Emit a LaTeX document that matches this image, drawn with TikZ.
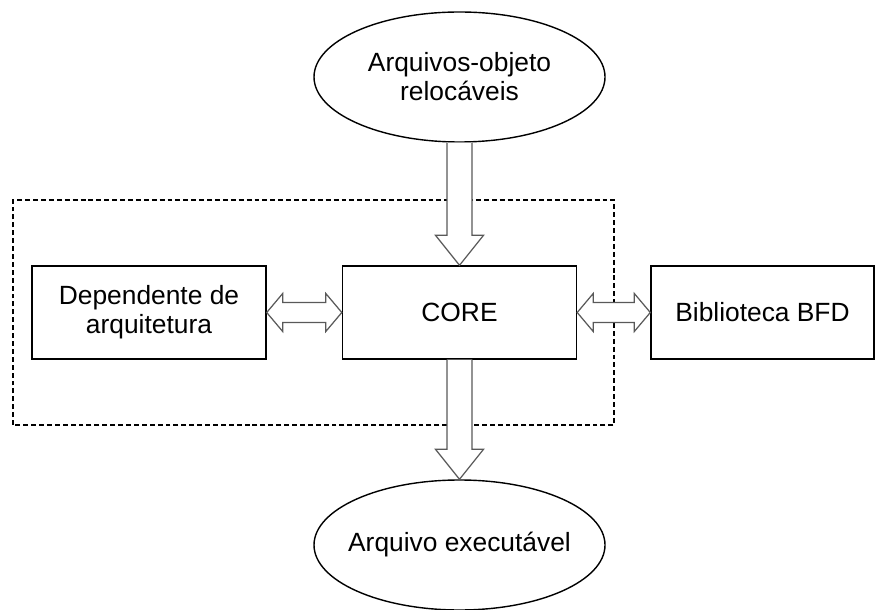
\documentclass[tikz,border=0pt]{standalone}
\usepackage{fontspec}
\setmainfont{Liberation Sans}
\usepackage{tikz}
\usetikzlibrary{shapes.geometric}
\usetikzlibrary{calc}

\tikzset{
  bloco/.style={draw,line width=0.8pt,minimum width=4.68cm,minimum height=1.86cm,
    align=center,inner sep=0pt},
  arquivo/.style={draw,ellipse,line width=0.8pt,minimum width=5.82cm,
    minimum height=2.6cm,align=center,inner sep=-0.25cm},
  seta/.style={draw=black!65,fill=white,line width=0.7pt,line join=miter},
  moldura/.style={draw,dash pattern=on 2.8pt off 1.7pt,line width=0.6pt}
}

\newcommand{\setabaixo}[2]{%
  \draw[seta] ($(#1)+(-0.25,0)$) -- ($(#2)+(-0.25,0.6)$) -- ($(#2)+(-0.48,0.6)$)
    -- (#2) -- ($(#2)+(0.48,0.6)$) -- ($(#2)+(0.25,0.6)$) -- ($(#1)+(0.25,0)$);}
\newcommand{\setadupla}[2]{%
  \draw[seta] (#1) -- ($(#1)+(0.32,0.38)$) -- ($(#1)+(0.32,0.2)$)
    -- ($(#2)+(-0.32,0.2)$) -- ($(#2)+(-0.32,0.38)$) -- (#2)
    -- ($(#2)+(-0.32,-0.38)$) -- ($(#2)+(-0.32,-0.2)$)
    -- ($(#1)+(0.32,-0.2)$) -- ($(#1)+(0.32,-0.38)$) -- cycle;}

\begin{document}
\begin{tikzpicture}[font=\fontsize{15}{16.5}\selectfont]
      \useasboundingbox (0,0) rectangle (17.5,12.18);
      \draw[moldura] (0.26,3.68) rectangle (12.28,8.18);

      \node[arquivo] (objetos) at (9.19,10.64) {Arquivos-objeto\\relocáveis};
      \node[bloco] (arq) at (2.98,5.93) {Dependente de\\arquitetura};
      \node[bloco] (core) at (9.19,5.93) {CORE};
      \node[bloco,minimum width=4.46cm] (bfd) at (15.25,5.93) {Biblioteca BFD};
      \node[arquivo] (exec) at (9.19,1.28) {Arquivo executável};

      \setabaixo{objetos.south}{core.north}
      \setabaixo{core.south}{exec.north}
      \setadupla{arq.east}{core.west}
      \setadupla{core.east}{bfd.west}
\end{tikzpicture}
\end{document}
